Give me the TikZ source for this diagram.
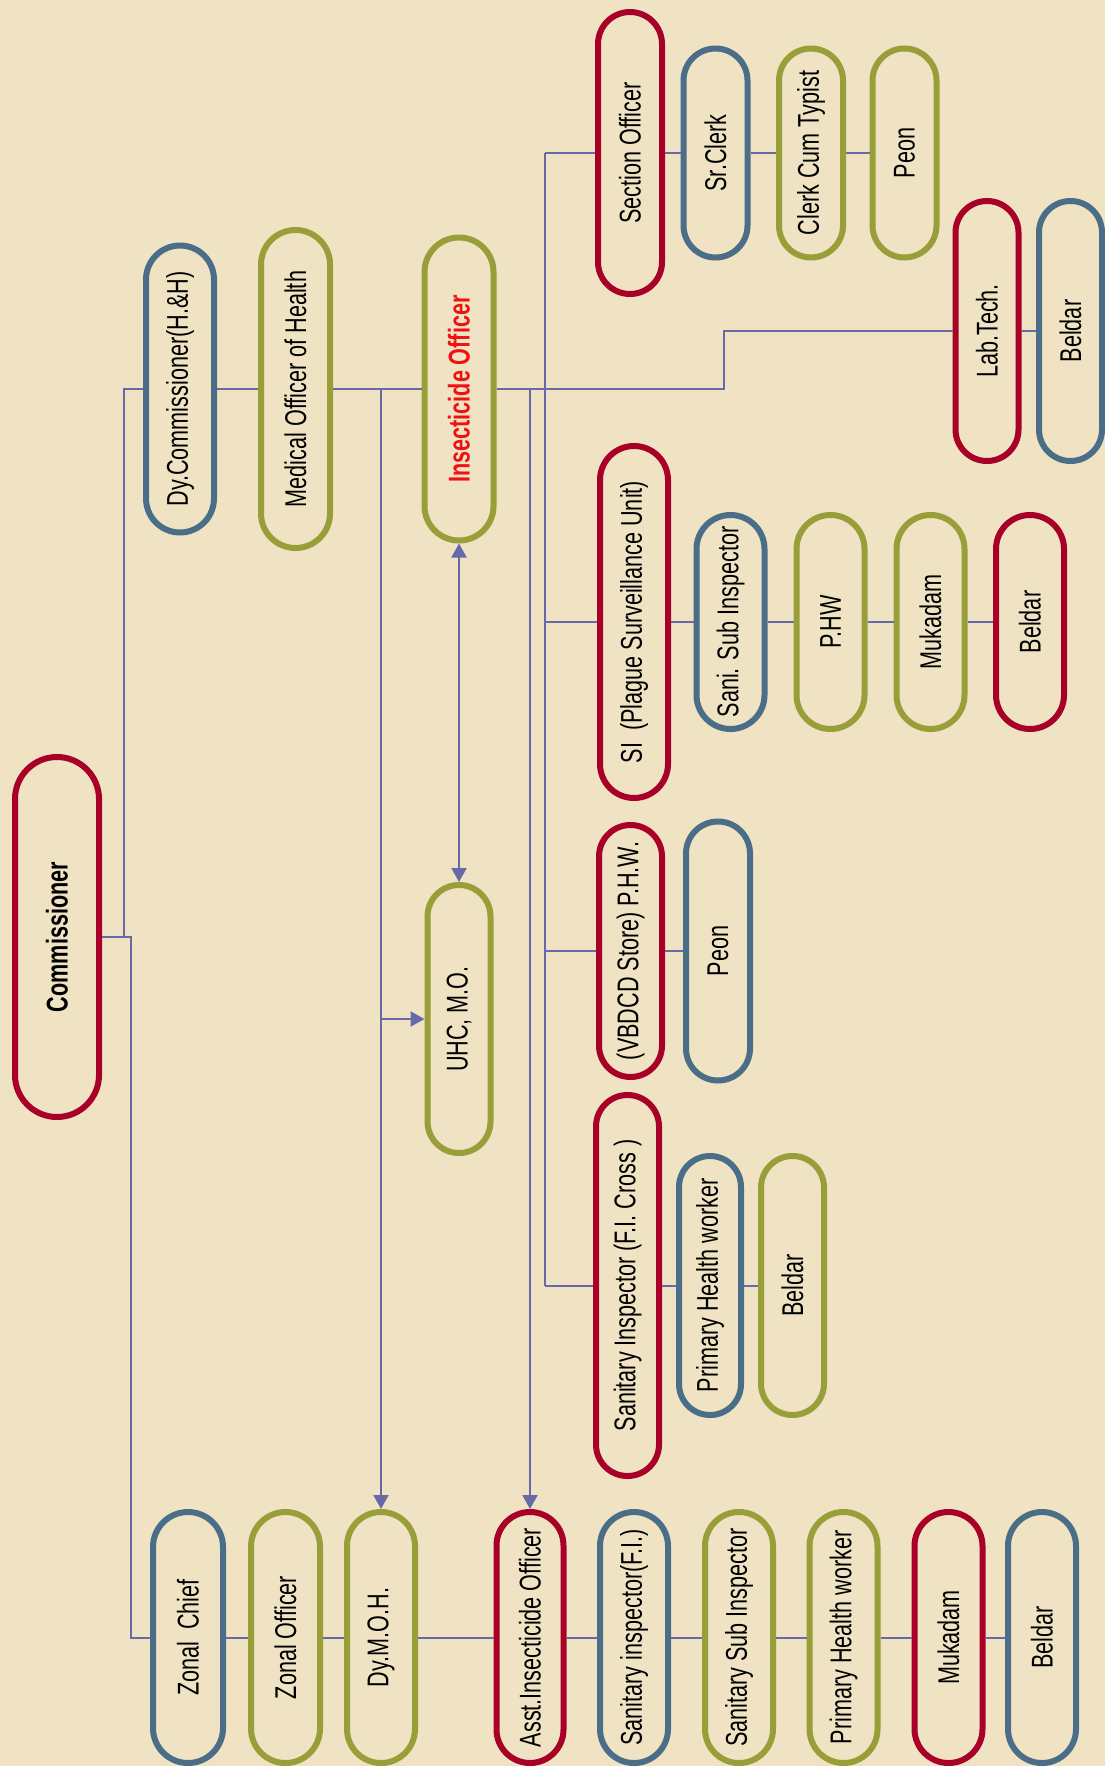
\documentclass[tikz,border=0pt]{standalone}
\usepackage{fontspec}
\newfontfamily\nar[FakeStretch=0.72]{Liberation Sans}
\usetikzlibrary{arrows.meta}
\definecolor{bg}{RGB}{239,227,195}
\definecolor{cred}{RGB}{168,0,38}
\definecolor{cblue}{RGB}{74,110,136}
\definecolor{colive}{RGB}{152,158,56}
\definecolor{cline}{RGB}{104,106,168}
\definecolor{tred}{RGB}{240,18,18}
\begin{document}
\begin{tikzpicture}[x=1pt,y=-1pt,
  pill/.style={draw, rotate=90, line width=6pt, inner sep=0pt, text=black,
    font=\nar\fontsize{30}{36}\selectfont},
  sz/.style n args={3}{minimum height=#1pt, minimum width=#2pt, rounded corners=#3pt},
  R/.style={pill, draw=cred}, B/.style={pill, draw=cblue}, G/.style={pill, draw=colive},
  conn/.style={draw=cline, line width=2pt},
  arr/.style={conn, -{Triangle[width=15pt,length=14pt]}},
  arrboth/.style={conn, {Triangle[width=15pt,length=14pt]}-{Triangle[width=15pt,length=14pt]}}]
\useasboundingbox (0,0) rectangle (1105,1766);
\fill[bg] (0,0) rectangle (1105,1766);

% top-level
\node[R, sz={84}{360}{42}] (comm) at (57,937) {\bfseries Commissioner};
\node[B, sz={68}{287}{34}] (dyc) at (180,389) {Dy.Commissioner(H.\&H)};
\node[G, sz={69}{318}{34.5}] (moh) at (295.5,389) {Medical Officer of Health};
\node[G, sz={69}{303}{34.5}] (io) at (459,389) {\bfseries\color{tred}Insecticide Officer};
\node[G, sz={63}{268}{31.5}] (uhc) at (459,1019) {UHC, M.O.};

% section officer row
\node[R, sz={64}{282}{32}] (so) at (630,153) {Section Officer};
\node[B, sz={64}{209}{32}] (srclerk) at (715.5,153) {Sr.Clerk};
\node[G, sz={64}{209}{32}] (cct) at (811,153) {Clerk Cum Typist};
\node[G, sz={64}{209}{32}] (peon1) at (904.5,153) {Peon};

% lab
\node[R, sz={63}{260}{31.5}] (labtech) at (987,331) {Lab.Tech.};
\node[B, sz={63}{260}{31.5}] (beldar1) at (1070.5,331) {Beldar};

% plague unit
\node[R, sz={68}{352}{34}] (sip) at (634,622) {SI\ \ (Plague Surveillance Unit)};
\node[B, sz={68}{214}{34}] (ssi) at (730.5,622) {Sani. Sub Inspector};
\node[G, sz={68}{214}{34}] (phw) at (830.5,622) {P.HW};
\node[G, sz={68}{214}{34}] (muk1) at (930.5,622) {Mukadam};
\node[R, sz={68}{214}{34}] (beldar2) at (1030,622) {Beldar};

% VBDCD store
\node[R, sz={63}{252}{31.5}] (vbdcd) at (630.5,951) {(VBDCD Store) P.H.W.};
\node[B, sz={64}{259}{32}] (peon2) at (718,951) {Peon};

% F.I. Cross
\node[R, sz={63}{381}{31.5}] (sifi) at (627.5,1285.5) {Sanitary Inspector (F.I. Cross )};
\node[B, sz={62}{259}{31}] (phw2) at (710,1285.5) {Primary Health worker};
\node[G, sz={63}{259}{31.5}] (beldar3) at (792.5,1285.5) {Beldar};

% bottom row
\node[B, sz={70}{251}{35}] (zchief) at (188,1637.5) {Zonal\ \ Chief};
\node[G, sz={69}{251}{34.5}] (zoff) at (285.5,1637.5) {Zonal Officer};
\node[G, sz={68}{251}{34}] (dymoh) at (381,1637.5) {Dy.M.O.H.};
\node[R, sz={67}{251}{33.5}] (aio) at (530,1637.5) {Asst.Insecticide Officer};
\node[B, sz={68}{251}{34}] (sif) at (634,1637.5) {Sanitary inspector(F.I.)};
\node[G, sz={68}{251}{34}] (ssi2) at (739,1637.5) {Sanitary Sub Inspector};
\node[G, sz={68}{251}{34}] (phw3) at (843.5,1637.5) {Primary Health worker};
\node[R, sz={68}{251}{34}] (muk2) at (948.5,1637.5) {Mukadam};
\node[B, sz={68}{251}{34}] (beldar4) at (1042,1637.5) {Beldar};

% connectors: commissioner
\coordinate (j1) at (131,937);
\coordinate (j0) at (124,937);
\draw[conn] (comm) -- (j1) -- (j1 |- zchief) -- (zchief);
\draw[conn] (j0) -- (j0 |- dyc) -- (dyc);

% main line
\draw[conn] (dyc) -- (moh);
\draw[conn] (moh) -- (io);
\coordinate (lab1) at (724,389);
\draw[conn] (io) -- (lab1) -- (lab1 |- labtech) -- (labtech);
\draw[conn] (labtech) -- (beldar1);

% bus at x=545
\coordinate (bus) at (545,389);
\draw[conn, line width=2.6pt] (bus |- so) -- (bus |- sifi);
\draw[conn] (bus |- so) -- (so);
\draw[conn] (bus |- sip) -- (sip);
\draw[conn] (bus |- vbdcd) -- (vbdcd);
\draw[conn] (bus |- sifi) -- (sifi);

% arrows
\coordinate (b1) at (dymoh |- io);
\draw[arr] (b1) -- (b1 |- uhc) -- (uhc);
\draw[arr] (b1 |- uhc) -- (dymoh);
\coordinate (b2) at (aio |- io);
\draw[arr] (b2) -- (aio);
\draw[arrboth] (io) -- (uhc);

% chains
\draw[conn] (so) -- (srclerk) (srclerk) -- (cct) (cct) -- (peon1);
\draw[conn] (sip) -- (ssi) (ssi) -- (phw) (phw) -- (muk1) (muk1) -- (beldar2);
\draw[conn] (vbdcd) -- (peon2);
\draw[conn] (sifi) -- (phw2) (phw2) -- (beldar3);
\draw[conn] (zchief) -- (zoff) (zoff) -- (dymoh) (dymoh) -- (aio) (aio) -- (sif)
  (sif) -- (ssi2) (ssi2) -- (phw3) (phw3) -- (muk2) (muk2) -- (beldar4);
\end{tikzpicture}
\end{document}
